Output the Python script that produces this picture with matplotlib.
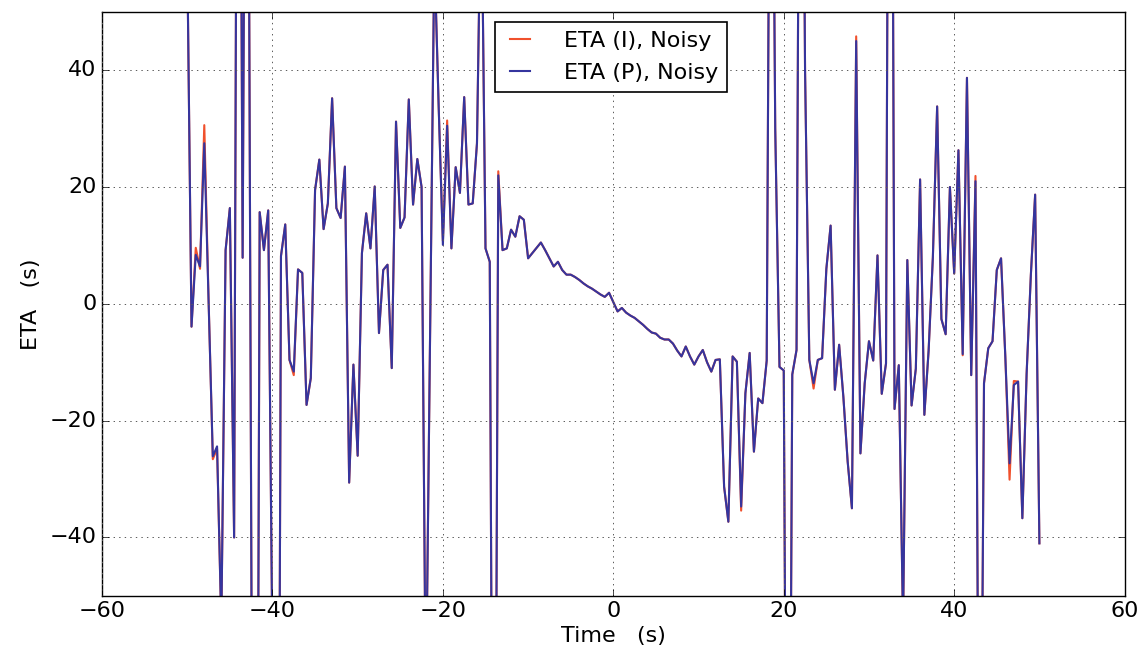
import numpy as np
import matplotlib
matplotlib.use('Agg')
import matplotlib.pyplot as plt

plt.style.use('classic')

# sample times (s), 0.5 s step
time = np.linspace(-50, 50, 201)

# ETA (P), Noisy, spikes run off the axes
eta_p = [
    60, -3.9, 8.4, 6.4, 27.5, 1, -26.1, -24.4, -55, 9.2,
    16.4, -40, 170, 7.9, 159, -40, -200, 15.7, 9.2, 16.0,
    -60, -200, 8.2, 13.6, -9.6, -11.6, 5.9, 5.3, -17.3, -12.7,
    19.5, 24.7, 12.8, 17.2, 35.2, 16.4, 14.7, 23.5, -30.6, -10.4,
    -26.0, 8.7, 15.5, 9.5, 20.1, -5.0, 5.8, 6.7, -11.0, 31.2,
    13.0, 14.8, 35.0, 17.0, 24.8, 20.0, -70, -5, 60, 34,
    10.1, 30.5, 9.5, 23.4, 19.0, 35.4, 17.0, 17.2, 27.5, 75,
    9.5, 7.2, -150, 22.0, 9.2, 9.5, 12.7, 11.5, 15.0, 14.4,
    7.8, 8.7, 9.6, 10.5, 9.2, 7.8, 6.4, 7.2, 5.8, 5.0,
    5.0, 4.6, 4.1, 3.5, 3.0, 2.6, 2.1, 1.6, 1.2, 1.9,
    0.3, -1.3, -0.7, -1.5, -2.0, -2.4, -3.0, -3.6, -4.3, -4.9,
    -5.1, -5.8, -6.1, -6.1, -6.8, -8.0, -9.0, -7.3, -9.0, -10.4,
    -9.0, -7.9, -10.0, -11.6, -9.6, -9.5, -31.3, -37.3, -9.0, -9.9,
    -34.7, -15.3, -8.4, -25.3, -16.2, -17.0, -9.7, 130, 30, -10.8,
    -11.4, -150, -12.1, -7.9, 150, 40, -9.6, -13.6, -9.6, -9.3,
    6, 13.4, -14.7, -7.0, -16.0, -27.0, -35.0, 45.0, -25.6, -13.6,
    -6.4, -9.7, 8.3, -15.4, -10.2, 186, -18.0, -10.5, -55, 7.5,
    -17.4, -11.1, 21.3, -19.0, -8, 8, 33.8, -2.6, -5.2, 20.0,
    5.2, 26.3, -8.6, 38.7, -12.2, 21.0, -120, -13.6, -7.6, -6.4,
    5.8, 7.8, -9, -27.3, -13.9, -13.3, -36.7, -12, 5, 18.7,
    -41.0]

# ETA (I), Noisy is the same except at these samples (index: value)
eta_i_diff = {2: 9.6, 3: 6.0, 4: 30.6, 6: -26.6, 7: -24.8, 25: -12.2,
              60: 10.8, 61: 31.4, 73: 22.7, 130: -35.4, 147: -14.5,
              157: 45.8, 182: -8.8, 185: 21.9, 193: -30.1, 194: -13.2}

eta_i = list(eta_p)
for idx, val in eta_i_diff.items():
    eta_i[idx] = val

fig = plt.figure(figsize=(11.4, 6.57), dpi=100, facecolor='white')
ax = fig.add_axes([0.0895, 0.093, 0.897, 0.889])
ax.set_facecolor('white')

ax.plot(time, eta_i, color='#f0502c', lw=1.5, label='ETA (I), Noisy')
ax.plot(time, eta_p, color='#35359e', lw=1.5, label='ETA (P), Noisy')

ax.set_xlim(-60, 60)
ax.set_ylim(-50, 50)
ax.set_xticks([-60, -40, -20, 0, 20, 40, 60])
ax.set_yticks([-40, -20, 0, 20, 40])
ax.grid(True, linestyle=':', color='0.35', linewidth=0.7)
ax.tick_params(labelsize=16, direction='in', top=True, right=True, length=5)
ax.set_xlabel('Time   (s)', fontsize=16, labelpad=3)
ax.set_ylabel('ETA   (s)', fontsize=16, labelpad=6)

leg = ax.legend(loc='upper center', bbox_to_anchor=(0.4975, 0.983),
                borderaxespad=0, fontsize=16, handlelength=1.5,
                handletextpad=1.2, borderpad=0.4, labelspacing=0.55,
                fancybox=False, numpoints=2)
leg.get_frame().set_edgecolor('k')
leg.get_frame().set_linewidth(1.2)

fig.savefig('out.png', dpi=100, facecolor='white')
